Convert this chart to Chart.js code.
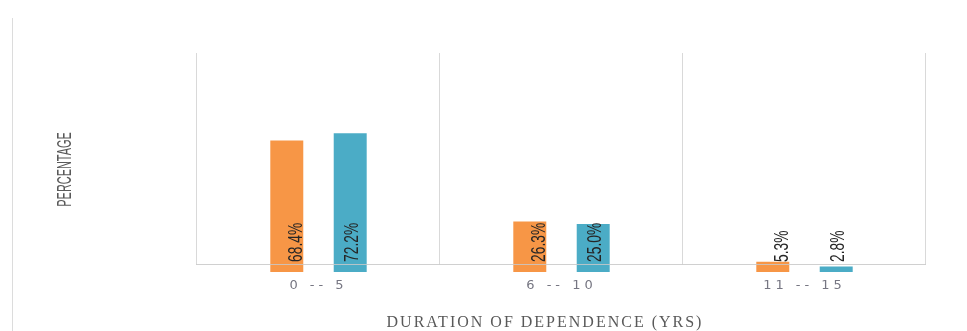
<!DOCTYPE html>
<html>
<head>
<meta charset="utf-8">
<script src="https://cdn.jsdelivr.net/npm/chart.js@4/dist/chart.umd.min.js"></script>
<style>
  html, body { margin: 0; padding: 0; background: #fff; }
  #wrap { position: relative; width: 967px; height: 331px; }
  #frame { position: absolute; left: 12px; top: 18px; width: 1px; height: 313px; background: #dcdcdc; }
  #c { position: absolute; left: 0; top: 0; }
</style>
</head>
<body>
<div id="wrap">
  <div id="frame"></div>
  <canvas id="c" width="967" height="331"></canvas>
</div>
<script>
// Duration of dependence, share of respondents per group (%)
const categories = ['0 -- 5', '6 -- 10', '11 -- 15'];
const seriesOrange = [68.4, 26.3, 5.3];
const seriesTeal = [72.2, 25.0, 2.8];
const xTitle = 'DURATION OF DEPENDENCE (YRS)';
const yTitle = 'PERCENTAGE';

const ORANGE = '#F79646';
const TEAL = '#4BACC6';

// Separators, baseline, rotated value labels and the axis titles
const decor = {
  id: 'decor',
  beforeDatasetsDraw(chart) {
    const { ctx, chartArea, scales: { x, y } } = chart;
    ctx.save();
    const baseY = Math.round(y.getPixelForValue(0) - 8) + 0.5;
    ctx.strokeStyle = '#d9d9d9';
    ctx.lineWidth = 1;
    ctx.beginPath();
    for (let i = 0; i <= categories.length; i++) {
      const px = Math.round(x.getPixelForValue(i - 0.5)) - 0.5;
      ctx.moveTo(px, chartArea.top);
      ctx.lineTo(px, baseY);
    }
    ctx.stroke();
    ctx.restore();
  },
  afterDatasetsDraw(chart, args, opts) {
    const { ctx, scales: { x, y } } = chart;
    ctx.save();

    // baseline across the plot, drawn over the bars
    const baseY = Math.round(y.getPixelForValue(0) - 8) + 0.5;
    ctx.strokeStyle = 'rgba(200,200,200,0.85)';
    ctx.lineWidth = 1;
    ctx.beginPath();
    ctx.moveTo(x.getPixelForValue(-0.5) - 1, baseY);
    ctx.lineTo(x.getPixelForValue(categories.length - 0.5), baseY);
    ctx.stroke();

    // value labels, reading bottom to top from the foot of each bar
    chart.data.datasets.forEach((ds, di) => {
      const meta = chart.getDatasetMeta(di);
      meta.data.forEach((bar, i) => {
        ctx.save();
        ctx.translate(bar.x + opts.labelShift[di], bar.base - 10);
        ctx.rotate(-Math.PI / 2);
        ctx.scale(0.66, 1);
        ctx.font = '21px "Liberation Sans", Arial, sans-serif';
        ctx.fillStyle = '#262626';
        ctx.textAlign = 'left';
        ctx.textBaseline = 'alphabetic';
        ctx.fillText(ds.data[i].toFixed(1) + '%', 0, 0);
        ctx.restore();
      });
    });

    // vertical axis title
    ctx.save();
    ctx.translate(71, chart.height / 2 + 4);
    ctx.rotate(-Math.PI / 2);
    ctx.scale(0.545, 1);
    ctx.font = '20px "Liberation Sans", Arial, sans-serif';
    ctx.fillStyle = '#595959';
    ctx.textAlign = 'center';
    ctx.textBaseline = 'alphabetic';
    ctx.fillText(yTitle, 0, 0);
    ctx.restore();

    // horizontal axis title
    ctx.save();
    ctx.letterSpacing = '2px';
    ctx.font = '16px "Liberation Serif", "Times New Roman", serif';
    ctx.fillStyle = '#595959';
    ctx.textAlign = 'center';
    ctx.textBaseline = 'middle';
    ctx.fillText(xTitle, 545, 323);
    ctx.restore();

    ctx.restore();
    // spacing used by the category labels (drawn after the datasets)
    ctx.letterSpacing = '4px';
  },
  afterDraw(chart) {
    chart.ctx.letterSpacing = '0px';
  }
};

new Chart(document.getElementById('c'), {
  type: 'bar',
  data: {
    labels: categories,
    datasets: [
      { label: 'Orange', data: seriesOrange, backgroundColor: ORANGE, borderWidth: 0,
        barPercentage: 0.52, categoryPercentage: 0.522 },
      { label: 'Teal', data: seriesTeal, backgroundColor: TEAL, borderWidth: 0,
        barPercentage: 0.52, categoryPercentage: 0.522 }
    ]
  },
  options: {
    responsive: false,
    animation: false,
    devicePixelRatio: 1,
    layout: { padding: { left: 197, right: 41, top: 53, bottom: 0 } },
    plugins: {
      legend: { display: false },
      tooltip: { enabled: false },
      decor: { labelShift: [15, 8] }
    },
    scales: {
      x: {
        grid: { display: false, drawTicks: false },
        border: { display: false },
        ticks: {
          z: 1,
          padding: 6,
          color: '#767682',
          font: { family: '"DejaVu Sans", Verdana, sans-serif', size: 13 }
        },
        afterFit(scale) { scale.height = 59; }
      },
      y: {
        display: false,
        min: 0,
        max: 114
      }
    }
  },
  plugins: [decor]
});
</script>
</body>
</html>
